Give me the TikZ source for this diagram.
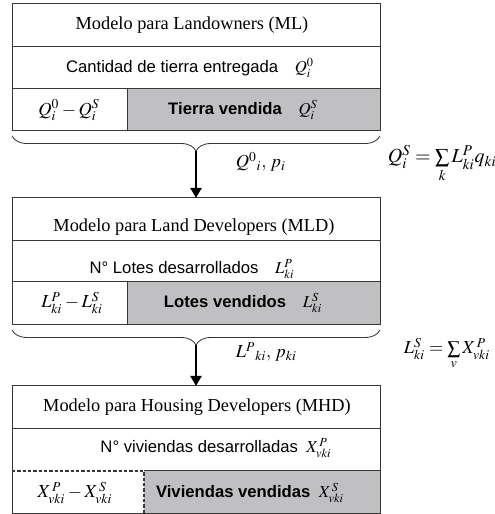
\documentclass[tikz,border=0pt]{standalone}
\usepackage{mathptmx}
\usepackage[no-math]{fontspec}
\setmainfont{Liberation Serif}
\setsansfont{Liberation Sans}
\usetikzlibrary{decorations.pathreplacing,arrows.meta}
\definecolor{soldgray}{RGB}{192,192,195}
\definecolor{edgegray}{RGB}{55,55,55}
\tikzset{
  cell/.style={draw=edgegray,line width=0.6pt},
  modbrace/.style={draw=edgegray,line width=0.5pt,decorate,decoration={brace,amplitude=9pt}},
  flow/.style={line width=1.5pt,-{Triangle[length=6pt,width=6.5pt]}},
  rowtext/.style={font=\sffamily},
  ruletext/.style={anchor=west,font=\fontsize{12}{14}\selectfont},
}
\begin{document}
\begin{tikzpicture}[x=0.6pt,y=0.6pt,font=\fontsize{11}{13}\selectfont]
\useasboundingbox (0,0) rectangle (495,514);

% landowners
\fill[soldgray] (127,383) rectangle (380,425);
\draw[cell] (12,383) rectangle (380,510);
\draw[cell] (12,467) -- (380,467);
\draw[cell] (12,425) -- (380,425);
\draw[cell] (127,383) -- (127,425);
\node (ml) at (192,488.5) {Modelo para Landowners (ML)};
\node[rowtext] (mlq) at (190,446) {Cantidad de tierra entregada\quad$Q_i^0$};
\node (mlrest) at (69,404) {$Q_i^0-Q_i^S$};
\node[rowtext] (mlsold) at (243,404) {\textbf{Tierra vendida}\quad$Q_i^S$};

% land developers
\fill[soldgray] (127,189) rectangle (380,232);
\draw[cell] (12,189) rectangle (380,316);
\draw[cell] (12,273) -- (380,273);
\draw[cell] (12,232) -- (380,232);
\draw[cell] (127,189) -- (127,232);
\node (mld) at (194,287) {Modelo para Land Developers (MLD)};
\node[rowtext] (mldq) at (192,245) {N° Lotes desarrollados\quad$L_{ki}^P$};
\node (mldrest) at (72,211) {$L_{ki}^P-L_{ki}^S$};
\node[rowtext] (mldsold) at (243,211) {\textbf{Lotes vendidos}\quad$L_{ki}^S$};

% housing developers
\fill[soldgray] (144,1) rectangle (380,43);
\draw[cell] (12,1) rectangle (380,128);
\draw[cell] (12,85) -- (380,85);
\draw[cell] (144,43) -- (380,43);
\draw[cell,line width=0.9pt,dash pattern=on 2pt off 1.2pt] (12,43) -- (144,43) -- (144,1);
\node (mhd) at (197,107) {Modelo para Housing Developers (MHD)};
\node[rowtext] (mhdq) at (216,66) {N° viviendas desarrolladas\enspace$X_{vki}^{\,P}$};
\node (mhdrest) at (75,21) {$X_{vki}^{\,P}-X_{vki}^{\,S}$};
\node[rowtext] (mhdsold) at (250,21) {\textbf{Viviendas vendidas}\enspace$X_{vki}^{\,S}$};

% flows between models
\coordinate (top1) at (196,316);
\coordinate (top2) at (196,128);
\draw[modbrace] (380,378) -- (12,378);
\coordinate (tip1) at (196,363);
\draw[flow] (tip1) -- (top1);
\node[anchor=west] (flow1) at (230,352) {$Q^0{}_i,\,p_i$};
\node[ruletext] (rule1) at (382,350) {$Q_i^S=\sum\limits_k L_{ki}^P q_{ki}$};

\draw[modbrace] (380,184) -- (12,184);
\coordinate (tip2) at (196,169);
\draw[flow] (tip2) -- (top2);
\node[anchor=west] (flow2) at (230,162) {$L^P{}_{ki},\,p_{ki}$};
\node[anchor=west] (rule2) at (398,160) {$L_{ki}^S=\sum\limits_v X_{vki}^{\,P}$};
\end{tikzpicture}
\end{document}
